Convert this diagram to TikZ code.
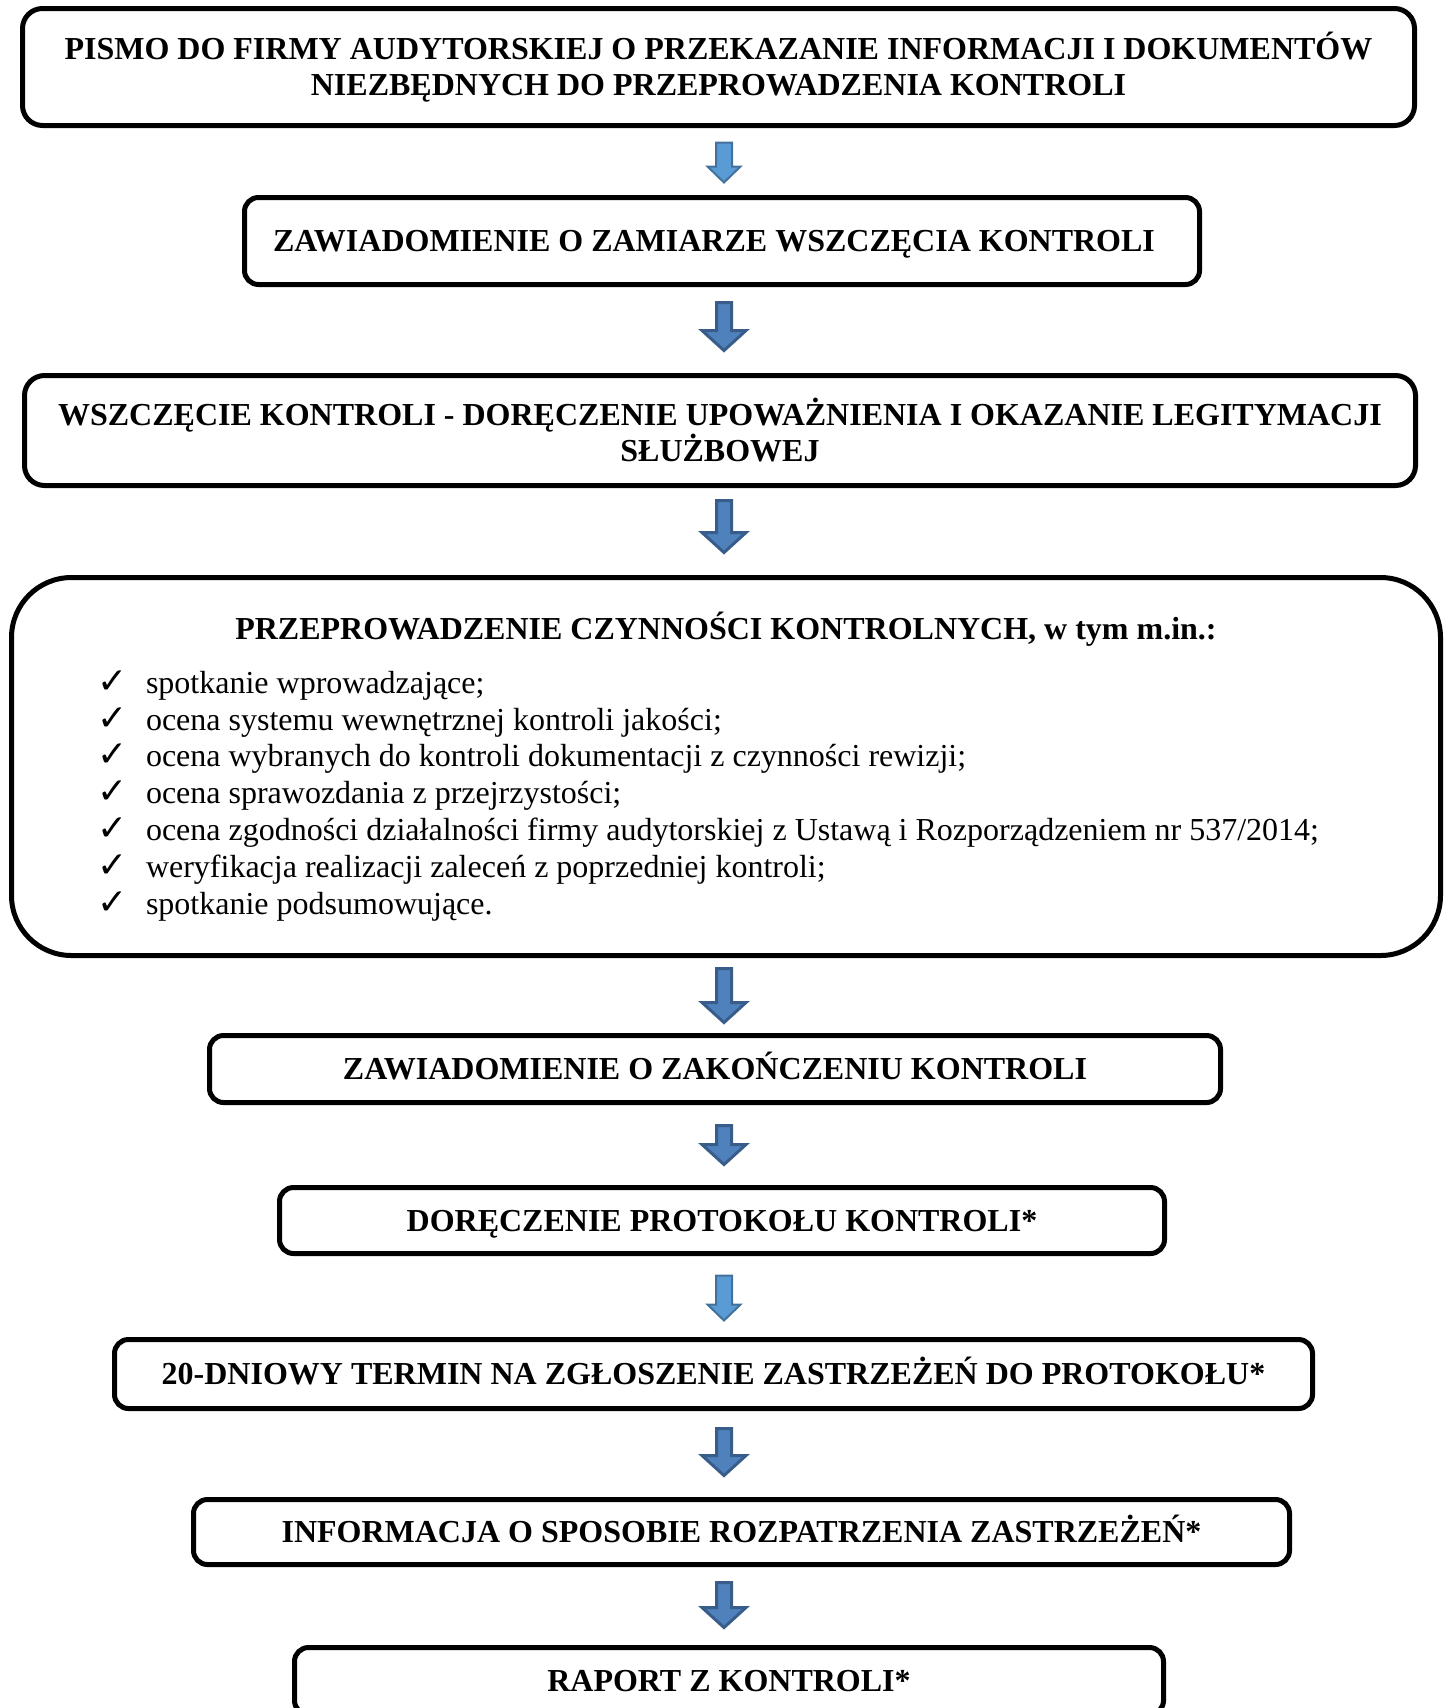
\documentclass[tikz,border=0pt]{standalone}
\usepackage{fontspec}
\setmainfont{Liberation Serif}
\newfontfamily\symfont{DejaVu Sans}
\usepackage{xcolor}
\usetikzlibrary{calc}

\definecolor{arrlight}{HTML}{5B9BD5}
\definecolor{arrlightdk}{HTML}{41719C}
\definecolor{arrdark}{HTML}{4F81BD}
\definecolor{arrdarkdk}{HTML}{385D8A}

\newcommand\chkmark{\makebox[23pt][l]{\hspace*{-1.5pt}\smash{\symfont\fontsize{18}{18}\selectfont ✓}}}
% block arrow: from, to, top gap, tip gap, shaft half width, head half width, head length, style
\newcommand\blockarr[8]{%
  \draw[#8] let \p1=(#1.south), \p2=(#2.north) in
    (362pt-#5,\y1-#3-1.25pt) -- (362pt+#5,\y1-#3-1.25pt) -- (362pt+#5,\y2+#4+1.25pt+#7)
    -- (362pt+#6,\y2+#4+1.25pt+#7) -- (362pt,\y2+#4+1.25pt) -- (362pt-#6,\y2+#4+1.25pt+#7)
    -- (362pt-#5,\y2+#4+1.25pt+#7) -- cycle;}

\begin{document}
\begin{tikzpicture}[
    x=0.5pt, y=-0.5pt,
    base/.style={draw,line width=2.5pt,rounded corners=7pt,inner sep=0pt,align=center,font=\bfseries\fontsize{16}{18}\selectfont},
    box/.style={base,text height=10.8pt,text depth=0pt},
    widebox/.style={base,rounded corners=10pt},
    bigbox/.style={base,rounded corners=30pt,font=\fontsize{16}{18.4}\selectfont},
    lightarr/.style={fill=arrlight,draw=arrlightdk,line width=1pt,line join=miter},
    darkarr/.style={fill=arrdark,draw=arrdarkdk,line width=1.5pt,line join=miter}
  ]
    \useasboundingbox (0,0) rectangle (1450,1708);
    \node[widebox,minimum width=696pt,minimum height=58.5pt] (pismo) at (718.5,67)
      {PISMO DO FIRMY AUDYTORSKIEJ O PRZEKAZANIE INFORMACJI I DOKUMENTÓW\\NIEZBĘDNYCH DO PRZEPROWADZENIA KONTROLI};
    \node[box,minimum width=477.5pt,minimum height=43.5pt] (zaw) at (722,241)
      {ZAWIADOMIENIE O ZAMIARZE WSZCZĘCIA KONTROLI\hspace{8pt}};
    \node[widebox,minimum width=695.5pt,minimum height=55pt] (wszcz) at (720,430.5)
      {WSZCZĘCIE KONTROLI - DORĘCZENIE UPOWAŻNIENIA I OKAZANIE LEGITYMACJI\\SŁUŻBOWEJ};
    \node[bigbox,minimum width=714.5pt,minimum height=189pt] (czyn) at (726,766.5)
      {\parbox{626pt}{\centering\textbf{PRZEPROWADZENIE CZYNNOŚCI KONTROLNYCH, w tym m.in.:}\par\vspace{8.5pt}
        \raggedright
        \chkmark spotkanie wprowadzające;\\
        \chkmark ocena systemu wewnętrznej kontroli jakości;\\
        \chkmark ocena wybranych do kontroli dokumentacji z czynności rewizji;\\
        \chkmark ocena sprawozdania z przejrzystości;\\
        \chkmark ocena zgodności działalności firmy audytorskiej z Ustawą i Rozporządzeniem nr 537/2014;\\
        \chkmark weryfikacja realizacji zaleceń z poprzedniej kontroli;\\
        \chkmark spotkanie podsumowujące.}};
    \node[box,minimum width=505.5pt,minimum height=33.5pt] (zak) at (715,1069)
      {ZAWIADOMIENIE O ZAKOŃCZENIU KONTROLI};
    \node[box,minimum width=442.5pt,minimum height=33pt] (prot) at (722,1220.5)
      {DORĘCZENIE PROTOKOŁU KONTROLI*};
    \node[box,minimum width=599pt,minimum height=34.5pt] (term) at (713.5,1374)
      {20-DNIOWY TERMIN NA ZGŁOSZENIE ZASTRZEŻEŃ DO PROTOKOŁU*};
    \node[box,minimum width=548pt,minimum height=32.5pt] (info) at (741.5,1532)
      {INFORMACJA O SPOSOBIE ROZPATRZENIA ZASTRZEŻEŃ*};
    \node[box,minimum width=434.5pt,minimum height=33.5pt] (rap) at (729,1681)
      {RAPORT Z KONTROLI*};
    \foreach \a/\b/\s/\e in {zaw/wszcz/6.5/10,wszcz/czyn/5/10,czyn/zak/4/4,zak/prot/9/9,term/info/7.5/9.5,info/rap/6.5/7.5}
      \blockarr{\a}{\b}{\s pt}{\e pt}{3.75pt}{11pt}{10pt}{darkarr};
    \foreach \a/\b/\s/\e in {pismo/zaw/6/5,prot/term/8.5/7}
      \blockarr{\a}{\b}{\s pt}{\e pt}{4pt}{8.25pt}{8pt}{lightarr};
  \end{tikzpicture}
\end{document}
